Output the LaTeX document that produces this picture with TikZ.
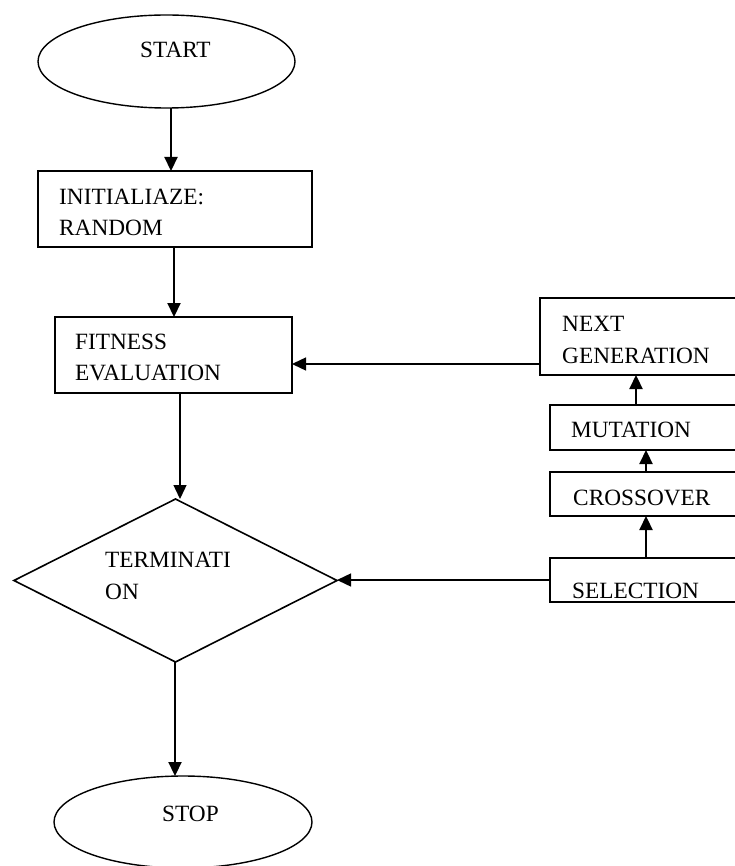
\documentclass[tikz,border=0pt]{standalone}
\usepackage{fontspec}
\setmainfont{Liberation Serif}
\usetikzlibrary{shapes.geometric,arrows.meta,calc}
\begin{document}
\begin{tikzpicture}[x=1pt,y=-1pt,
  shp/.style={draw=black,line width=1.8pt,inner sep=0pt,outer sep=0pt},
  boxs/.style={shp,rectangle},
  ell/.style={shp,ellipse,line width=1.4pt},
  arr/.style={line width=2.2pt,-{Triangle[length=14pt,width=13pt]}},
  tharr/.style={line width=1.4pt,-{Triangle[length=14pt,width=13pt]}},
  lbl/.style={anchor=base west,inner sep=0pt,font=\fontsize{23.3}{31}\selectfont}]
\useasboundingbox (0,0) rectangle (735,866);
\clip (0,0) rectangle (735,866);
% shapes
\node[ell,minimum width=257pt,minimum height=93pt] (start) at (166.5,61.5) {};
\node[boxs,minimum width=274pt,minimum height=76pt] (init) at (175,209) {};
\node[boxs,minimum width=237pt,minimum height=76pt] (fit) at (173.5,355) {};
\node[shp,diamond,line width=1.6pt,minimum width=323pt,minimum height=163pt] (term) at (175.5,580.5) {};
\node[ell,minimum width=258pt,minimum height=92pt] (stop) at (183,822) {};
\node[boxs,minimum width=220pt,minimum height=77pt] (next) at (650,336.5) {};
\node[boxs,minimum width=210pt,minimum height=45pt] (mut) at (655,427.5) {};
\node[boxs,minimum width=210pt,minimum height=44pt] (cross) at (655,494) {};
\node[boxs,minimum width=210pt,minimum height=44pt] (sel) at (655,580) {};
% texts
\node[lbl] (tstart) at (140,57.5) {START};
\node[lbl] (tinit1) at (59,204.5) {INITIALIAZE:};
\node[lbl] (tinit2) at (59,235.5) {RANDOM};
\node[lbl] (tfit1) at (75,349.5) {FITNESS};
\node[lbl] (tfit2) at (75,380.5) {EVALUATION};
\node[lbl] (tterm1) at (105,567.5) {TERMINATI};
\node[lbl] (tterm2) at (105,599) {ON};
\node[lbl] (tstop) at (162,821) {STOP};
\node[lbl] (tnext1) at (562,331.5) {NEXT};
\node[lbl] (tnext2) at (562,363) {GENERATION};
\node[lbl] (tmut) at (571,437) {MUTATION};
\node[lbl] (tcross) at (573,505) {CROSSOVER};
\node[lbl] (tsel) at (572,598) {SELECTION};
% connectors
\coordinate (sb) at ($(start.south)+(4.5,0)$);
\draw[arr] (sb) -- (sb |- init.north);
\coordinate (ib) at ($(init.south)+(-1,0)$);
\draw[arr] (ib) -- (ib |- fit.north);
\coordinate (fb) at ($(fit.south)+(6.5,0)$);
\draw[tharr] (fb) -- (fb |- term.north);
\coordinate (tb) at ($(term.south)+(-0.5,0)$);
\draw[arr] (tb) -- (tb |- stop.north);
\coordinate (nw) at ($(next.west)+(0,27.5)$);
\draw[tharr] (nw) -- (nw -| fit.east);
\draw[tharr] (sel.west) -- (sel.west -| term.east);
\coordinate (sx) at ($(sel.north)+(-9,0)$);
\draw[arr] (sx) -- (sx |- cross.south);
\coordinate (cx) at ($(cross.north)+(-9,0)$);
\draw[arr] (cx) -- (cx |- mut.south);
\coordinate (mx) at ($(mut.north)+(-19,0)$);
\draw[arr] (mx) -- (mx |- next.south);
\end{tikzpicture}
\end{document}
